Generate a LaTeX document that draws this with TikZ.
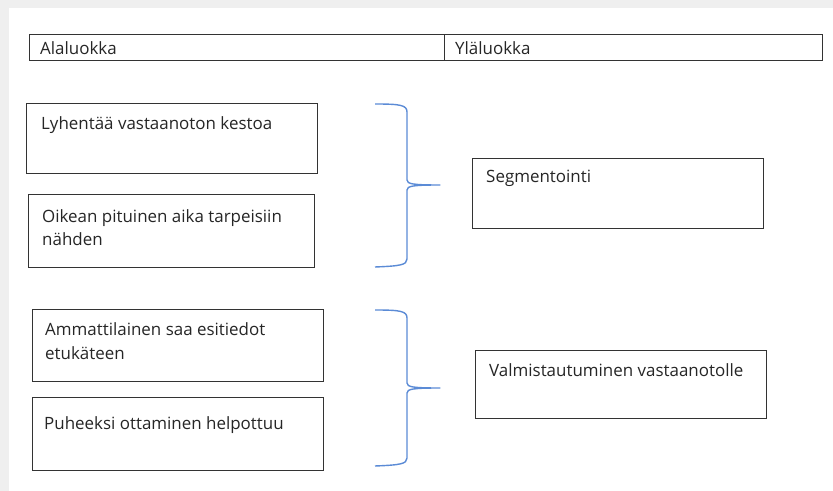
\documentclass[tikz,border=0pt]{standalone}
\usepackage{fontspec}
\setmainfont{Open Sans}
\begin{document}
\begin{tikzpicture}[x=1bp,y=-1bp,
  box/.style={draw=boxline, line width=1.3bp, inner sep=0pt},
  label/.style={anchor=base west, inner sep=0pt, text=ink, align=left,
    font=\fontsize{17}{23.5}\selectfont},
  brace/.style={draw=braceblue, line width=1.4bp, line join=round}]
\definecolor{boxline}{HTML}{333333}
\definecolor{ink}{HTML}{262626}
\definecolor{braceblue}{HTML}{5B8BD6}
\definecolor{frame}{HTML}{EFEFEF}
\useasboundingbox (0,0) rectangle (833,491);
% page background with the grey window edges
\fill[white] (0,0) rectangle (833,491);
\fill[frame] (0,0) rectangle (833,8);
\fill[frame] (0,0) rectangle (9,491);

% header row
\node[box, minimum width=415bp, minimum height=26bp, anchor=north west] (hleft) at (29,34) {};
\node[box, minimum width=378bp, minimum height=26bp, anchor=north west] (hright) at (444,34) {};
\node[label] (thleft) at (40,55) {Alaluokka};
\node[label] (thright) at (455,55) {Yläluokka};

% first group (multi-line labels are placed by their last baseline)
\node[box, minimum width=291bp, minimum height=70bp, anchor=north west] (b1) at (26,103) {};
\node[label] (t1) at (41,130) {Lyhentää vastaanoton kestoa};
\node[box, minimum width=286bp, minimum height=73bp, anchor=north west] (b2) at (28,194) {};
\node[label] (t2) at (42,246) {Oikean pituinen aika tarpeisiin\\nähden};
\node[box, minimum width=291bp, minimum height=70bp, anchor=north west] (s1) at (472,158) {};
\node[label] (ts1) at (486,183) {Segmentointi};

% second group
\node[box, minimum width=291bp, minimum height=72bp, anchor=north west] (b3) at (32,309) {};
\node[label] (t3) at (45,359) {Ammattilainen saa esitiedot\\etukäteen};
\node[box, minimum width=291bp, minimum height=73bp, anchor=north west] (b4) at (32,397) {};
\node[label] (t4) at (44,429) {Puheeksi ottaminen helpottuu};
\node[box, minimum width=291bp, minimum height=68bp, anchor=north west] (s2) at (475,350) {};
\node[label] (ts2) at (489,376) {Valmistautuminen vastaanotolle};

% curly braces
\path[brace] (375,104) .. controls (400,104) and (407,105) .. (407,112)
  -- (407,180) .. controls (407,184) and (413,185) .. (440,185)
  .. controls (413,185) and (407,186) .. (407,190)
  -- (407,259) .. controls (407,265) and (400,266) .. (375,267);
\path[brace] (375,310) .. controls (400,310) and (407,311) .. (407,318)
  -- (407,383) .. controls (407,387) and (413,388) .. (440,388)
  .. controls (413,388) and (407,389) .. (407,393)
  -- (407,458) .. controls (407,464) and (400,465) .. (375,466);
\end{tikzpicture}
\end{document}
